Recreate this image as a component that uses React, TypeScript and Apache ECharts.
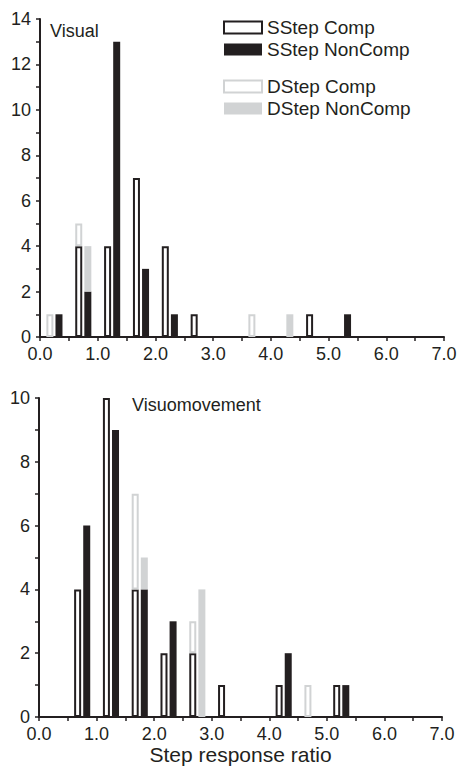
import React, { useEffect, useRef } from "react";
import * as echarts from "echarts";

// histogram bins of width 0.5 from 0.0 to 7.0
const binLabels = ["0.0-0.5", "0.5-1.0", "1.0-1.5", "1.5-2.0", "2.0-2.5", "2.5-3.0", "3.0-3.5", "3.5-4.0", "4.0-4.5", "4.5-5.0", "5.0-5.5", "5.5-6.0", "6.0-6.5", "6.5-7.0"];

// Visual
const visSStepComp = [0, 4, 4, 7, 4, 1, 0, 0, 0, 1, 0, 0, 0, 0];
const visSStepNonComp = [1, 2, 13, 3, 1, 0, 0, 0, 0, 0, 1, 0, 0, 0];
const visDStepComp = [1, 1, 0, 0, 0, 0, 0, 1, 0, 0, 0, 0, 0, 0];
const visDStepNonComp = [0, 2, 0, 0, 0, 0, 0, 0, 1, 0, 0, 0, 0, 0];

// Visuomovement
const vmSStepComp = [0, 4, 10, 4, 2, 2, 1, 0, 1, 0, 1, 0, 0, 0];
const vmSStepNonComp = [0, 6, 9, 4, 3, 0, 0, 0, 2, 0, 1, 0, 0, 0];
const vmDStepComp = [0, 0, 0, 3, 0, 1, 0, 0, 0, 1, 0, 0, 0, 0];
const vmDStepNonComp = [0, 0, 0, 1, 0, 4, 0, 0, 0, 0, 0, 0, 0, 0];

const seriesNames = ["SStep Comp", "SStep NonComp", "DStep Comp", "DStep NonComp"];
const panelTitles = ["Visual", "Visuomovement"];
const xAxisTitle = "Step response ratio";
const xRange = [0, 7];
const yMax = [14, 10];

const DARK = "#231f20";
const GRAY = "#d1d3d4";
const FONT = "'Liberation Sans', Arial, Helvetica, sans-serif";

const styles: any = {
  "SStep Comp": { color: "#ffffff", borderColor: DARK, borderWidth: 2 },
  "SStep NonComp": { color: DARK, borderWidth: 0 },
  "DStep Comp": { color: "#ffffff", borderColor: GRAY, borderWidth: 2 },
  "DStep NonComp": { color: GRAY, borderWidth: 0 },
};
const stacks: any = {
  "SStep Comp": "comp",
  "SStep NonComp": "noncomp",
  "DStep Comp": "comp",
  "DStep NonComp": "noncomp",
};

function toData(vals: number[]) {
  return vals.map((v) => (v === 0 ? "-" : v));
}

function buildSeries(gridIdx: number, arrays: number[][]) {
  return seriesNames.map((name, k) => ({
    type: "bar",
    name,
    xAxisIndex: gridIdx * 2,
    yAxisIndex: gridIdx,
    stack: "g" + gridIdx + stacks[name],
    barWidth: 7,
    barGap: "30%",
    itemStyle: styles[name],
    data: toData(arrays[k]),
  }));
}

// category axis carrying the bars and the ticks at every 0.5
function catAxis(gridIdx: number) {
  return {
    type: "category",
    gridIndex: gridIdx,
    position: "bottom",
    data: binLabels,
    boundaryGap: true,
    splitLine: { show: false },
    axisLine: { show: true, onZero: false, lineStyle: { color: DARK, width: 2 } },
    axisTick: { show: true, inside: false, length: 4, interval: 0, lineStyle: { color: DARK, width: 1.5 } },
    axisLabel: { show: false },
  };
}

// value axis carrying the numeric labels
function valAxis(gridIdx: number, withName: boolean) {
  return {
    type: "value",
    gridIndex: gridIdx,
    position: "bottom",
    min: xRange[0],
    max: xRange[1],
    interval: 1,
    splitLine: { show: false },
    axisLine: { show: false },
    axisTick: { show: false },
    axisLabel: {
      margin: 8,
      color: DARK,
      fontSize: 18,
      fontFamily: FONT,
      formatter: (v: number) => v.toFixed(1),
    },
    name: withName ? xAxisTitle : "",
    nameLocation: "middle",
    nameGap: 27,
    nameTextStyle: { color: DARK, fontSize: 21, fontFamily: FONT, verticalAlign: "top" },
  };
}

function yAxisCfg(gridIdx: number, max: number) {
  return {
    type: "value",
    gridIndex: gridIdx,
    min: 0,
    max,
    interval: 1,
    splitLine: { show: false },
    axisLine: { show: true, lineStyle: { color: DARK, width: 2 } },
    axisTick: { show: true, inside: false, length: 4, lineStyle: { color: DARK, width: 1.5 } },
    axisLabel: {
      margin: 9,
      color: DARK,
      fontSize: 18,
      fontFamily: FONT,
      formatter: (v: number) => (v % 2 === 0 ? String(v) : ""),
    },
  };
}

export default function App() {
  const ref = useRef<HTMLDivElement>(null);
  useEffect(() => {
    if (!ref.current) return;
    const chart = echarts.init(ref.current, undefined, { renderer: "svg" });
    const legendText = { color: DARK, fontSize: 19, fontFamily: FONT, lineHeight: 18 };
    const legendItem = (name: string) => ({ name, icon: "rect", itemStyle: styles[name] });
    const titleStyle = { color: DARK, fontSize: 18, fontWeight: "normal", fontFamily: FONT };
    chart.setOption({
      animation: false,
      backgroundColor: "#ffffff",
      title: [
        { text: panelTitles[0], left: 50, top: 22, padding: 0, textStyle: titleStyle },
        { text: panelTitles[1], left: 132, top: 396, padding: 0, textStyle: titleStyle },
      ],
      legend: [
        {
          orient: "vertical",
          left: 223,
          top: 18,
          padding: 0,
          itemWidth: 38,
          itemHeight: 12,
          itemGap: 3,
          selectedMode: false,
          textStyle: legendText,
          data: [legendItem(seriesNames[0]), legendItem(seriesNames[1])],
        },
        {
          orient: "vertical",
          left: 223,
          top: 77,
          padding: 0,
          itemWidth: 38,
          itemHeight: 12,
          itemGap: 3,
          selectedMode: false,
          textStyle: legendText,
          data: [legendItem(seriesNames[2]), legendItem(seriesNames[3])],
        },
      ],
      grid: [
        { left: 40, right: 16, top: 19, height: 318 },
        { left: 39, right: 18, top: 398, height: 319 },
      ],
      xAxis: [catAxis(0), valAxis(0, false), catAxis(1), valAxis(1, true)],
      yAxis: [yAxisCfg(0, yMax[0]), yAxisCfg(1, yMax[1])],
      series: [
        ...buildSeries(0, [visSStepComp, visSStepNonComp, visDStepComp, visDStepNonComp]),
        ...buildSeries(1, [vmSStepComp, vmSStepNonComp, vmDStepComp, vmDStepNonComp]),
      ],
    });
    return () => chart.dispose();
  }, []);
  return (
    <div
      ref={ref}
      style={{ position: "absolute", left: 0, top: 0, width: 460, height: 767, background: "#fff" }}
    />
  );
}
